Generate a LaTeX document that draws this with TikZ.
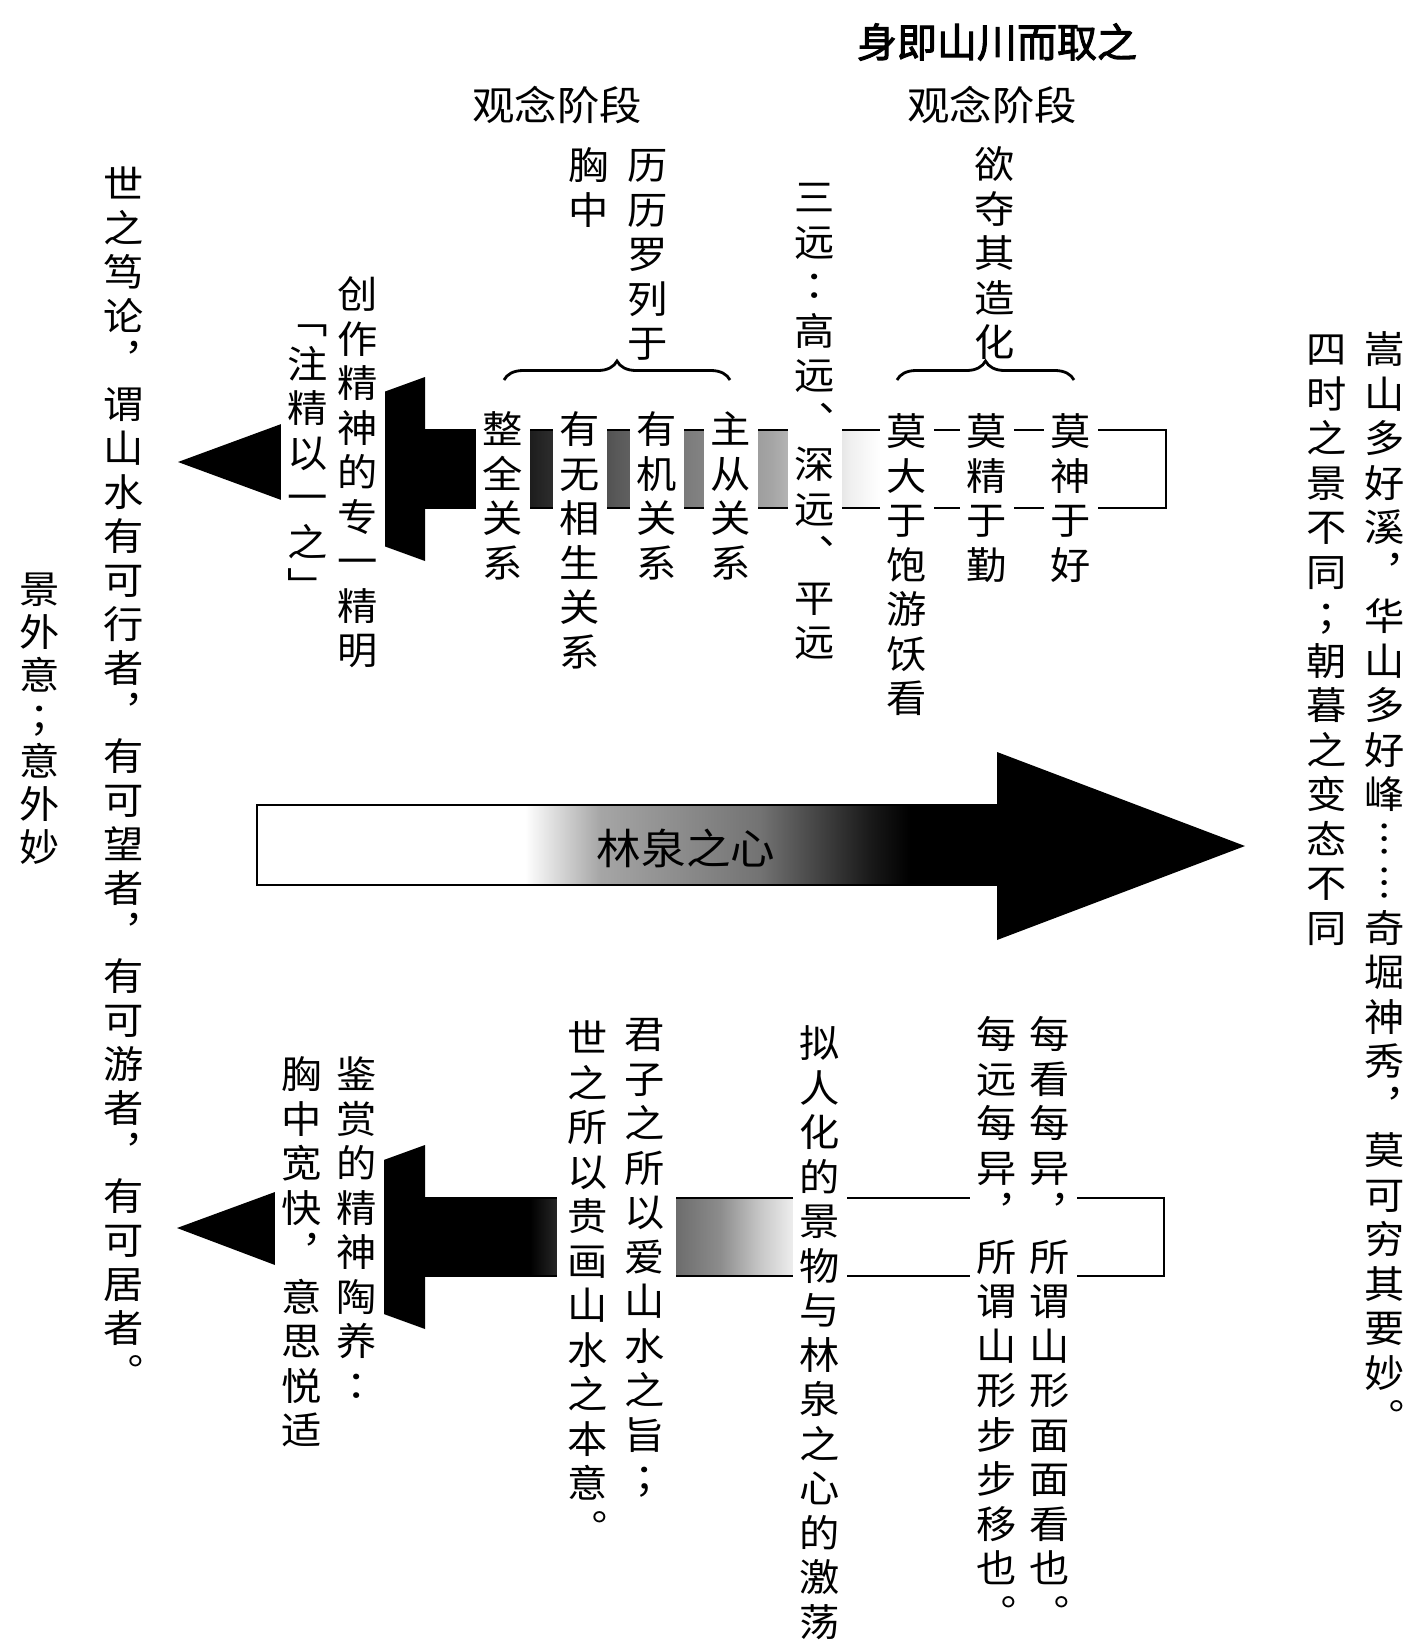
\documentclass[tikz,border=0pt]{standalone}
\usepackage{fontspec}
\usetikzlibrary{decorations.pathreplacing}
\newfontfamily\cjk[FakeStretch=1.06]{Noto Sans CJK SC}
\newfontfamily\cjkb[FakeStretch=1.0,FakeBold=2.5]{Noto Sans CJK SC}
\newfontfamily\cjktc[FakeStretch=1.06]{Noto Sans CJK TC}
\newcommand\vco{{\cjktc ：}}
\newcommand\vse{{\cjktc ；}}
\ExplSyntaxOn
\cs_new_protected:Npn \vc_cell:n #1
  { \hbox_to_wd:nn {1.1em} { \hss \vrule~height~.88em~depth~.12em~width~0pt\relax #1 \hss } }
\NewDocumentCommand \vcol { O{22.25pt} m }
  {
    \vbox:n
      {
        \skip_set:Nn \baselineskip {#1}
        \skip_set:Nn \lineskip {0pt}
        \dim_set:Nn \lineskiplimit {-\maxdimen}
        \tl_map_function:nN {#2} \vc_cell:n
      }
  }
\ExplSyntaxOff
\begin{document}
\begin{tikzpicture}[x=0.5pt,y=-0.5pt,
  vtext/.style={inner xsep=3pt, inner ysep=0pt, fill=white, anchor=north, font=\cjk\fontsize{19}{22}\selectfont},
  htext/.style={inner sep=0pt, font=\cjk\fontsize{20}{24}\selectfont},
  bandline/.style={line width=1.4pt, line join=miter},
  bracelin/.style={decorate, decoration={brace, amplitude=9.5pt}, line width=1.4pt}]
\useasboundingbox (0,0) rectangle (1413,1645);

% ---------- upper band (creation) ----------
\fill[black] (425,430) rectangle (490,508);
\shade[left color=black, right color=black!85] (490,430) rectangle (543,508);
\shade[left color=black!85, right color=black!65] (543,430) rectangle (617,508);
\shade[left color=black!65, right color=black!50] (617,430) rectangle (695,508);
\shade[left color=black!50, right color=black!35] (695,430) rectangle (773,508);
\shade[left color=black!35, right color=black!6] (773,430) rectangle (851,508);
\shade[left color=black!6, right color=white] (851,430) rectangle (880,508);
\draw[bandline] (425,430) -- (1166,430) -- (1166,508) -- (425,508);
\fill (381,393) -- (425,377) -- (425,561) -- (381,545) -- cycle;
\fill (178,462) -- (284,423) -- (284,501) -- cycle;

% ---------- middle arrow ----------
\shade[left color=white, right color=black!35] (525,805) rectangle (600,885);
\shade[left color=black!35, right color=black!55] (600,805) rectangle (760,885);
\shade[left color=black!55, right color=black!90] (760,805) rectangle (870,885);
\shade[left color=black!90, right color=black] (870,805) rectangle (910,885);
\fill[black] (910,805) rectangle (998,885);
\draw[bandline] (997,805) -- (257,805) -- (257,885) -- (997,885);
\fill (997,752) -- (1245,846) -- (997,940) -- cycle;
\node[htext, font=\cjk\fontsize{21}{24}\selectfont] (linquan) at (686,848) {林泉之心};

% ---------- lower band (appreciation) ----------
\fill[black] (425,1198) rectangle (530,1276);
\shade[left color=black, right color=black!80] (530,1198) rectangle (566,1276);
\shade[left color=black!80, right color=black!60] (566,1198) rectangle (667,1276);
\shade[left color=black!60, right color=black!45] (667,1198) rectangle (720,1276);
\shade[left color=black!45, right color=black!22] (720,1198) rectangle (760,1276);
\shade[left color=black!22, right color=black!5] (760,1198) rectangle (797,1276);
\shade[left color=black!5, right color=white] (797,1198) rectangle (830,1276);
\draw[bandline] (425,1198) -- (1164,1198) -- (1164,1276) -- (425,1276);
\fill (381,1161) -- (425,1145) -- (425,1329) -- (381,1313) -- cycle;
\fill (177,1228) -- (275,1192) -- (275,1265) -- cycle;

% ---------- top texts ----------
\node[htext, font=\cjkb\fontsize{20}{24}\selectfont] (title) at (997,42) {身即山川而取之};
\node[htext] (guannian1) at (557,105) {观念阶段};
\node[htext] (guannian2) at (992,105) {观念阶段};
\node[vtext] (xiongzhong) at (589,146) {\vcol{胸中}};
\node[vtext] (lili) at (648,146) {\vcol{历历罗列于}};
\node[vtext] (sanyuan) at (815,178) {\vcol{三远\vco 高远︑深远︑平远}};
\node[vtext] (yuduo) at (995,145) {\vcol{欲夺其造化}};

% ---------- upper row texts ----------
\node[vtext] (zhujing) at (308,300) {\vcol{﹁注精以一之﹂}};
\node[vtext] (chuangzuo) at (358,275) {\vcol{创作精神的专一精明}};
\node[vtext] (zhengquan) at (503,410) {\vcol{整全关系}};
\node[vtext] (youwu) at (580,410) {\vcol{有无相生关系}};
\node[vtext] (youji) at (657,410) {\vcol{有机关系}};
\node[vtext] (zhucong) at (731,410) {\vcol{主从关系}};
\node[vtext] (modayu) at (907,412) {\vcol{莫大于饱游饫看}};
\node[vtext] (mojing) at (987,412) {\vcol{莫精于勤}};
\node[vtext] (moshen) at (1071,412) {\vcol{莫神于好}};

% ---------- lower row texts ----------
\node[vtext] (xiongkuan) at (302,1055) {\vcol{胸中宽快︐意思悦适}};
\node[vtext] (jianshang) at (357,1055) {\vcol{鉴赏的精神陶养\vco}};
\node[vtext, inner xsep=5pt] (shizhi) at (588,1019) {\vcol{世之所以贵画山水之本意︒}};
\node[vtext, inner xsep=5pt] (junzi) at (645,1015) {\vcol{君子之所以爱山水之旨\vse}};
\node[vtext] (nirenhua) at (820,1024) {\vcol{拟人化的景物与林泉之心的激荡}};
\node[vtext] (meiyuan) at (997,1015) {\vcol{每远每异︐所谓山形步步移也︒}};
\node[vtext] (meikan) at (1050,1015) {\vcol{每看每异︐所谓山形面面看也︒}};

% ---------- side texts ----------
\node[vtext] (shilun) at (124,165) {\vcol[22pt]{世之笃论︐谓山水有可行者︐有可望者︐有可游者︐有可居者︒}};
\node[vtext] (jingwai) at (40,570) {\vcol[21.5pt]{景外意\vse 意外妙}};
\node[vtext] (songshan) at (1385,330) {\vcol{嵩山多好溪︐华山多好峰︙︙奇堀神秀︐莫可穷其要妙︒}};
\node[vtext] (sishi) at (1327,330) {\vcol{四时之景不同\vse 朝暮之变态不同}};

% ---------- braces ----------
\coordinate (braceLa) at (504,380);
\coordinate (braceLb) at (730,380);
\coordinate (braceRa) at (897,380);
\coordinate (braceRb) at (1074,380);
\draw[bracelin] (braceLa) -- (braceLb);
\draw[bracelin] (braceRa) -- (braceRb);
\end{tikzpicture}
\end{document}
